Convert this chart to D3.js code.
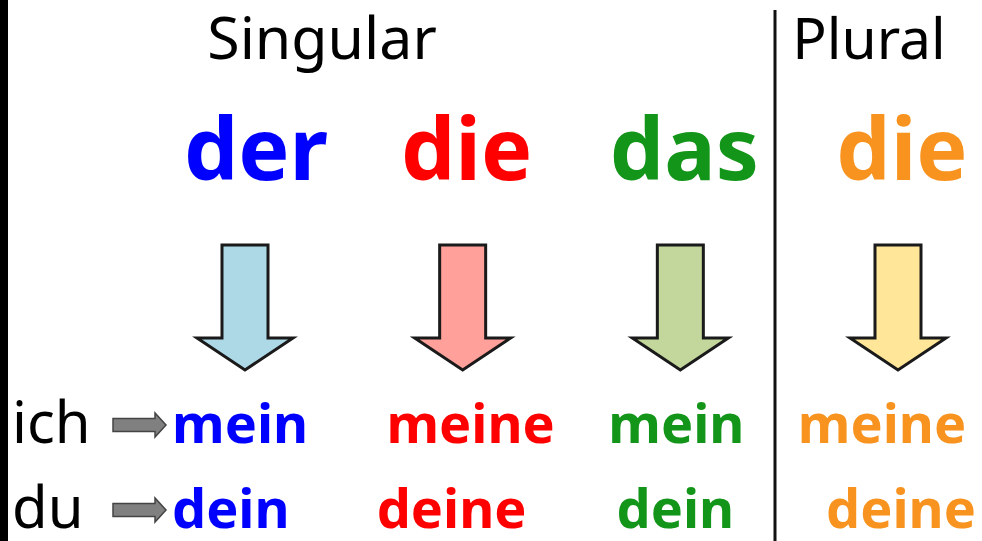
<!DOCTYPE html>
<html>
<head>
<meta charset="utf-8">
<script src="https://cdn.jsdelivr.net/npm/d3@7"></script>
<style>
  body { margin: 0; background: #fff; }
  svg { display: block; }
</style>
</head>
<body>
<div id="chart-area"></div>
<script>
// data
var headings = ["Singular", "Plural"];
var articles = ["der", "die", "das", "die"];
var wordColors = ["#0000ff", "#ff0000", "#13951a", "#f7931e"];
var arrowFills = ["#add8e6", "#ffa09a", "#c3d69b", "#ffe699"];
var pronouns = ["ich", "du"];
var forms = [
    ["mein", "meine", "mein", "meine"],
    ["dein", "deine", "dein", "deine"]
];

var width = 982, height = 541;
var font = "'Comic Sans MS', 'Noto Sans', sans-serif";

var svg = d3.select("#chart-area").append("svg")
    .attr("width", width)
    .attr("height", height);

svg.append("rect")
    .attr("width", width).attr("height", height)
    .attr("fill", "#fff");

// black strip on the left edge
svg.append("rect")
    .attr("x", 0).attr("y", 0)
    .attr("width", 8).attr("height", height)
    .attr("fill", "#000");

// column positions
var x = d3.scalePoint()
    .domain(d3.range(articles.length))
    .range([245, 898]);

// row baselines for the pronoun lines
var row = d3.scalePoint()
    .domain(pronouns)
    .range([443, 528]);

// the words below the arrows are not centred exactly under them
var formShift = [[0, 8, -4, -16], [0, -11, -5, 3]];

// divider between singular and plural
svg.append("line")
    .attr("x1", 775).attr("x2", 775)
    .attr("y1", 10).attr("y2", height)
    .attr("stroke", "#111")
    .attr("stroke-width", 3);

// headings
svg.append("text")
    .attr("x", 322).attr("y", 59)
    .attr("text-anchor", "middle")
    .attr("font-family", font)
    .attr("font-size", 59)
    .attr("fill", "#000")
    .text(headings[0]);

svg.append("text")
    .attr("x", 869).attr("y", 59)
    .attr("text-anchor", "middle")
    .attr("font-family", font)
    .attr("font-size", 57)
    .attr("fill", "#000")
    .text(headings[1]);

// articles
svg.selectAll(".article")
    .data(articles)
    .enter().append("text")
    .attr("class", "article")
    .attr("x", function(d, i) { return x(i) + (i == 0 ? 11 : 4); })
    .attr("y", 180)
    .attr("text-anchor", "middle")
    .attr("font-family", font)
    .attr("font-weight", "bold")
    .attr("font-size", 86)
    .attr("fill", function(d, i) { return wordColors[i]; })
    .text(function(d) { return d; });

// big down arrows
function downArrow(cx) {
    var sw = 23, hw = 48, top = 245, neck = 338, tip = 370;
    return "M" + (cx - sw) + "," + top +
        "L" + (cx + sw) + "," + top +
        "L" + (cx + sw) + "," + neck +
        "L" + (cx + hw) + "," + neck +
        "L" + cx + "," + tip +
        "L" + (cx - hw) + "," + neck +
        "L" + (cx - sw) + "," + neck + "Z";
}

svg.selectAll(".arrow")
    .data(arrowFills)
    .enter().append("path")
    .attr("class", "arrow")
    .attr("d", function(d, i) { return downArrow(x(i)); })
    .attr("fill", function(d) { return d; })
    .attr("stroke", "#1a1a1a")
    .attr("stroke-width", 3)
    .attr("stroke-linejoin", "miter");

// pronoun rows
var rows = svg.selectAll(".row")
    .data(pronouns)
    .enter().append("g")
    .attr("class", "row")
    .attr("transform", function(d) { return "translate(0," + row(d) + ")"; });

rows.append("text")
    .attr("x", 12)
    .attr("y", 0)
    .attr("font-family", font)
    .attr("font-size", 58)
    .attr("fill", "#000")
    .text(function(d) { return d; });

// small grey arrows
rows.append("path")
    .attr("d", "M113,-24.5L155,-24.5L155,-30L166,-18L155,-6L155,-11.5L113,-11.5Z")
    .attr("fill", "#808080")
    .attr("stroke", "#444")
    .attr("stroke-width", 1.5);

rows.selectAll(".form")
    .data(function(d, r) { return forms[r].map(function(w) { return {word: w, r: r}; }); })
    .enter().append("text")
    .attr("class", "form")
    .attr("x", function(d, i) { return i == 0 ? 172 : x(i) + formShift[d.r][i]; })
    .attr("y", 0)
    .attr("text-anchor", function(d, i) { return i == 0 ? "start" : "middle"; })
    .attr("font-family", font)
    .attr("font-weight", "bold")
    .attr("font-size", 54)
    .attr("fill", function(d, i) { return wordColors[i]; })
    .text(function(d) { return d.word; });
</script>
</body>
</html>
